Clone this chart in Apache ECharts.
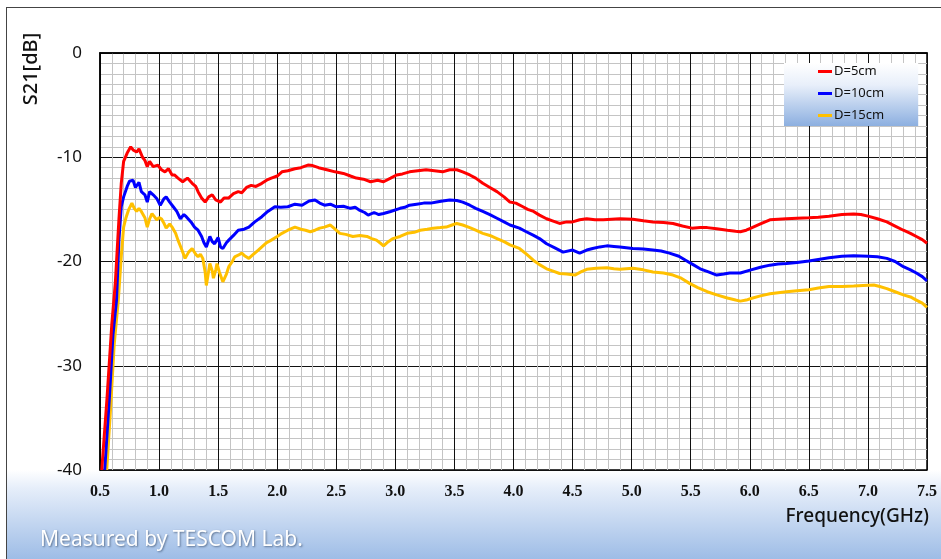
<!DOCTYPE html>
<html>
<head>
<meta charset="utf-8">
<script src="https://cdn.jsdelivr.net/npm/echarts@6/dist/echarts.min.js"></script>
<style>
  body { margin: 0; background: #fff; }
  #frame {
    position: absolute; left: 6px; top: 7px; width: 940px; height: 552px;
    border-left: 1px solid #444; border-top: 1px solid #444;
    background: linear-gradient(to bottom, #fff 0, #fff 462px, #e6eefa 480px, #9dbce6 552px);
  }
  #chart { position: absolute; left: 0; top: 0; width: 941px; height: 559px; }
</style>
</head>
<body>
<div id="frame"></div>
<div id="chart"></div>
<script>
// S21 vs frequency, three distances

var seriesNames = ['D=5cm', 'D=10cm', 'D=15cm'];
var seriesColors = ['#ff0000', '#0000ff', '#ffc000'];

// D=5cm
var freq5 = [0.515,0.56,0.60,0.63,0.66,0.68,0.70,0.73,0.76,0.78,0.81,0.83,0.86,0.88,0.90,0.92,0.95,0.99,1.02,1.05,1.08,1.11,1.13,1.16,1.20,1.24,1.28,1.31,1.33,1.36,1.39,1.42,1.45,1.48,1.52,1.55,1.59,1.63,1.67,1.70,1.74,1.78,1.82,1.87,1.91,1.95,2.00,2.04,2.09,2.15,2.20,2.26,2.30,2.35,2.42,2.49,2.56,2.62,2.67,2.73,2.79,2.85,2.90,2.96,3.01,3.06,3.12,3.19,3.26,3.33,3.40,3.46,3.52,3.57,3.63,3.68,3.74,3.80,3.86,3.92,3.97,4.02,4.08,4.12,4.17,4.22,4.28,4.33,4.39,4.45,4.50,4.56,4.62,4.69,4.76,4.83,4.90,5.01,5.10,5.18,5.27,5.35,5.43,5.51,5.58,5.64,5.72,5.81,5.88,5.92,5.97,6.01,6.09,6.17,6.24,6.31,6.40,6.50,6.58,6.67,6.78,6.88,6.94,7.00,7.08,7.16,7.23,7.30,7.36,7.41,7.46,7.50];
var s21_5 = [-40,-33,-26,-22,-16,-12.5,-10.4,-9.6,-9.0,-9.3,-9.5,-9.2,-10.0,-10.3,-10.9,-10.4,-10.9,-10.75,-11.2,-11.4,-11.1,-11.7,-11.7,-12.0,-12.35,-12.0,-12.5,-12.8,-13.3,-13.9,-14.3,-13.8,-13.6,-14.1,-14.3,-13.9,-13.9,-13.5,-13.3,-13.4,-12.9,-12.7,-12.8,-12.5,-12.2,-12.0,-11.8,-11.4,-11.3,-11.1,-11.0,-10.75,-10.8,-11.0,-11.2,-11.4,-11.55,-11.8,-12.0,-12.1,-12.35,-12.2,-12.35,-12.0,-11.7,-11.6,-11.4,-11.3,-11.2,-11.3,-11.4,-11.2,-11.2,-11.4,-11.7,-12.0,-12.5,-12.9,-13.3,-13.8,-14.3,-14.4,-14.75,-15.0,-15.2,-15.55,-15.9,-16.1,-16.35,-16.2,-16.2,-16.0,-15.9,-16.0,-16.0,-15.95,-15.9,-15.95,-16.1,-16.2,-16.25,-16.35,-16.6,-16.8,-16.75,-16.75,-16.85,-17.0,-17.1,-17.15,-17.0,-16.8,-16.4,-16.0,-15.95,-15.9,-15.85,-15.8,-15.75,-15.65,-15.5,-15.45,-15.5,-15.65,-15.9,-16.2,-16.6,-17.0,-17.3,-17.6,-17.9,-18.25];

// D=10cm
var freq10 = [0.54,0.58,0.61,0.64,0.66,0.68,0.70,0.73,0.75,0.78,0.80,0.81,0.83,0.85,0.88,0.90,0.92,0.95,0.98,1.01,1.04,1.06,1.09,1.12,1.15,1.18,1.21,1.23,1.27,1.30,1.33,1.36,1.38,1.40,1.43,1.45,1.47,1.50,1.52,1.54,1.57,1.59,1.63,1.67,1.72,1.76,1.81,1.87,1.92,1.98,2.03,2.09,2.15,2.21,2.27,2.32,2.36,2.40,2.45,2.50,2.56,2.62,2.66,2.70,2.74,2.77,2.82,2.86,2.90,2.96,3.04,3.08,3.12,3.18,3.24,3.30,3.35,3.40,3.46,3.52,3.57,3.63,3.68,3.74,3.80,3.86,3.92,3.97,4.05,4.10,4.17,4.22,4.28,4.35,4.42,4.50,4.56,4.62,4.67,4.73,4.79,4.85,4.90,5.01,5.10,5.18,5.25,5.32,5.40,5.46,5.52,5.58,5.65,5.72,5.78,5.83,5.92,6.01,6.09,6.17,6.24,6.31,6.40,6.50,6.58,6.67,6.78,6.88,7.00,7.08,7.16,7.23,7.30,7.36,7.41,7.46,7.50];
var s21_10 = [-40,-33,-27,-23.7,-18,-14.75,-13.8,-12.8,-12.3,-12.2,-12.9,-12.8,-12.4,-13.3,-13.6,-14.3,-13.3,-13.6,-13.95,-14.6,-14.0,-13.8,-14.3,-14.75,-15.2,-15.9,-15.5,-15.7,-16.2,-16.7,-17.0,-17.6,-18.2,-18.6,-17.6,-18.1,-18.3,-17.7,-18.6,-18.75,-18.2,-17.95,-17.5,-17.0,-16.9,-16.7,-16.2,-15.7,-15.2,-14.75,-14.8,-14.75,-14.5,-14.6,-14.2,-14.1,-14.4,-14.6,-14.5,-14.75,-14.7,-14.9,-14.8,-15.1,-15.3,-15.55,-15.3,-15.5,-15.4,-15.2,-14.9,-14.8,-14.6,-14.5,-14.4,-14.4,-14.3,-14.2,-14.1,-14.15,-14.3,-14.6,-14.9,-15.2,-15.5,-15.85,-16.2,-16.5,-16.8,-17.1,-17.5,-17.8,-18.3,-18.7,-19.1,-18.9,-19.2,-18.9,-18.75,-18.6,-18.5,-18.55,-18.6,-18.75,-18.8,-18.9,-19.0,-19.2,-19.5,-19.9,-20.3,-20.7,-21.0,-21.3,-21.2,-21.1,-21.1,-20.8,-20.55,-20.35,-20.25,-20.2,-20.1,-19.95,-19.8,-19.65,-19.5,-19.45,-19.5,-19.55,-19.7,-20.0,-20.5,-20.8,-21.1,-21.45,-21.85];

// D=15cm
var freq15 = [0.557,0.59,0.62,0.655,0.68,0.70,0.72,0.74,0.77,0.79,0.81,0.83,0.85,0.88,0.90,0.92,0.94,0.96,0.98,1.00,1.02,1.04,1.06,1.09,1.11,1.14,1.16,1.19,1.22,1.25,1.28,1.31,1.33,1.35,1.37,1.39,1.40,1.42,1.43,1.45,1.46,1.48,1.49,1.51,1.54,1.57,1.59,1.62,1.64,1.67,1.70,1.73,1.76,1.79,1.81,1.84,1.87,1.91,1.95,2.00,2.04,2.09,2.15,2.20,2.24,2.28,2.32,2.36,2.40,2.45,2.49,2.53,2.58,2.64,2.70,2.76,2.80,2.84,2.88,2.90,2.94,2.98,3.04,3.10,3.16,3.21,3.27,3.32,3.38,3.43,3.48,3.52,3.57,3.63,3.68,3.74,3.80,3.86,3.92,3.97,4.05,4.11,4.17,4.22,4.28,4.33,4.39,4.45,4.52,4.57,4.62,4.70,4.79,4.85,4.90,5.01,5.10,5.18,5.27,5.35,5.42,5.49,5.56,5.64,5.72,5.81,5.88,5.92,5.97,6.01,6.09,6.17,6.24,6.31,6.40,6.50,6.58,6.67,6.78,6.88,6.96,7.05,7.10,7.16,7.23,7.30,7.36,7.41,7.46,7.50];
var s21_15 = [-40,-34,-28,-23.7,-19.5,-16.7,-15.8,-15.1,-14.4,-14.9,-15.2,-14.9,-15.2,-15.8,-16.7,-15.9,-15.4,-15.7,-16.0,-15.8,-15.9,-16.3,-16.8,-16.4,-16.7,-17.3,-17.95,-18.8,-19.7,-19.1,-18.75,-19.3,-19.55,-19.3,-19.7,-21.0,-22.3,-20.9,-20.2,-20.9,-21.6,-20.8,-20.2,-21.0,-21.95,-21.2,-20.5,-20.0,-19.55,-19.4,-19.2,-19.5,-19.7,-19.4,-19.2,-18.9,-18.6,-18.2,-17.95,-17.6,-17.3,-17.0,-16.7,-16.9,-17.0,-17.15,-17.0,-16.8,-16.7,-16.5,-16.9,-17.3,-17.4,-17.6,-17.5,-17.6,-17.8,-17.95,-18.3,-18.5,-18.1,-17.8,-17.6,-17.3,-17.2,-17.0,-16.9,-16.8,-16.75,-16.7,-16.5,-16.35,-16.5,-16.75,-17.0,-17.3,-17.5,-17.8,-18.1,-18.4,-18.75,-19.3,-19.9,-20.3,-20.7,-20.9,-21.15,-21.2,-21.3,-21.0,-20.75,-20.65,-20.6,-20.7,-20.75,-20.65,-20.8,-21.0,-21.1,-21.3,-21.6,-22.1,-22.5,-22.9,-23.2,-23.5,-23.7,-23.8,-23.7,-23.55,-23.3,-23.1,-23.0,-22.9,-22.8,-22.7,-22.55,-22.4,-22.4,-22.35,-22.3,-22.25,-22.4,-22.6,-22.9,-23.2,-23.4,-23.7,-24.0,-24.4];

function pairs(xs, ys) {
  var out = [];
  for (var i = 0; i < xs.length; i++) out.push([xs[i], ys[i]]);
  return out;
}

var chart = echarts.init(document.getElementById('chart'));

var series = [
  pairs(freq5, s21_5),
  pairs(freq10, s21_10),
  pairs(freq15, s21_15)
].map(function (d, i) {
  return {
    name: seriesNames[i],
    type: 'line',
    data: d,
    showSymbol: false,
    symbol: 'none',
    clip: true,
    lineStyle: { color: seriesColors[i], width: 3 },
    itemStyle: { color: seriesColors[i] },
    z: 10 - i
  };
});

chart.setOption({
  animation: false,
  backgroundColor: 'transparent',
  grid: {
    left: 100, top: 53, right: 14, bottom: 89,
    show: true, borderColor: '#000', borderWidth: 1.5,
    backgroundColor: '#fff'
  },
  legend: {
    orient: 'vertical',
    left: 784, top: 63,
    padding: [2, 34, 4, 34],
    itemGap: 9,
    itemWidth: 14, itemHeight: 3,
    icon: 'rect',
    data: seriesNames,
    textStyle: { fontFamily: 'Noto Sans', fontSize: 13, color: '#111', padding: [0, 0, 0, -3] },
    backgroundColor: new echarts.graphic.LinearGradient(0, 0, 0, 1, [
      { offset: 0, color: '#ffffff' },
      { offset: 0.35, color: '#e8effa' },
      { offset: 1, color: '#8cafe0' }
    ])
  },
  xAxis: {
    type: 'value',
    min: 0.5, max: 7.5, interval: 0.5,
    axisLine: { show: true, lineStyle: { color: '#000', width: 1.5 } },
    axisTick: { show: false },
    axisLabel: {
      margin: 14,
      formatter: function (v) { return v.toFixed(1); },
      fontFamily: 'Liberation Serif', fontWeight: 'bold', fontSize: 16, color: '#111'
    },
    splitLine: { show: true, lineStyle: { color: '#111', width: 1 } },
    minorTick: { show: false, splitNumber: 5 },
    minorSplitLine: { show: true, lineStyle: { color: '#c4c4c4', width: 1 } }
  },
  yAxis: {
    type: 'value',
    min: -40, max: 0, interval: 10,
    axisLine: { show: true, lineStyle: { color: '#000', width: 1.5 } },
    axisTick: { show: false },
    axisLabel: {
      margin: 18,
      fontFamily: 'Noto Sans', fontSize: 17, color: '#111'
    },
    splitLine: { show: true, lineStyle: { color: '#111', width: 1 } },
    minorTick: { show: false, splitNumber: 10 },
    minorSplitLine: { show: true, lineStyle: { color: '#c4c4c4', width: 1 } }
  },
  graphic: [
    {
      type: 'text', x: 31, y: 69, rotation: Math.PI / 2,
      style: {
        text: 'S21[dB]', fill: '#111',
        font: '500 20px "Noto Sans"',
        align: 'center', verticalAlign: 'middle'
      }
    },
    {
      type: 'text', x: 929, y: 517,
      style: {
        text: 'Frequency(GHz)', fill: '#111',
        font: '500 19px "Noto Sans"',
        align: 'right', verticalAlign: 'middle'
      }
    },
    {
      type: 'text', x: 40, y: 540,
      style: {
        text: 'Measured by TESCOM Lab.', fill: '#fff',
        font: '21px "Noto Sans"',
        align: 'left', verticalAlign: 'middle',
        textShadowColor: 'rgba(40,60,90,0.6)', textShadowBlur: 2,
        textShadowOffsetX: 1, textShadowOffsetY: 1
      }
    }
  ],
  series: series
});
</script>
</body>
</html>
